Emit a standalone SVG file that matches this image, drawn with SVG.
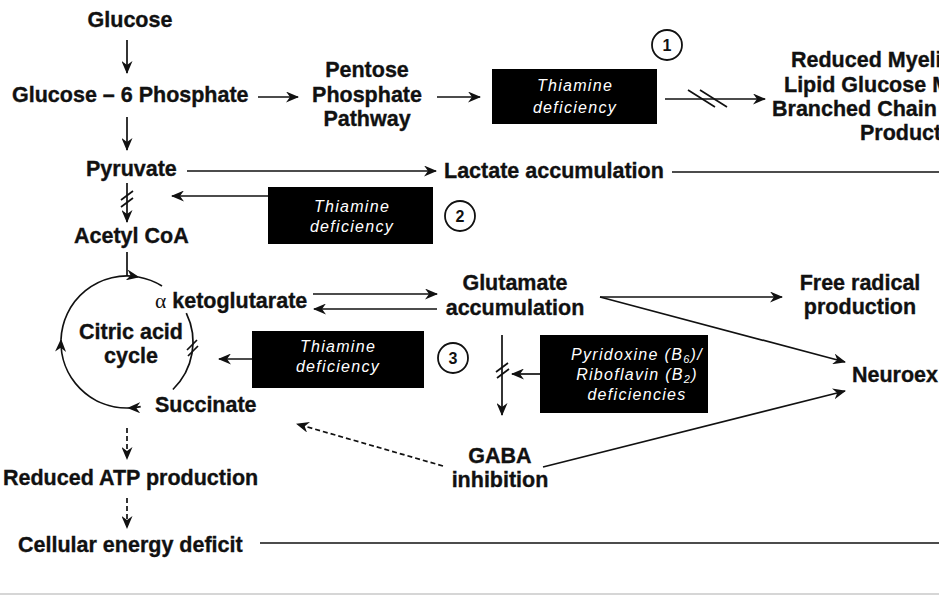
<svg xmlns="http://www.w3.org/2000/svg" width="939" height="595" viewBox="0 0 939 595">
<defs>
<style>
.t{font-family:"Liberation Sans",Arial,sans-serif;font-weight:bold;font-size:21.5px;fill:#111;stroke:#111;stroke-width:0.35}
.c{text-anchor:middle}
.bx{fill:#000}
.bt{font-family:"Liberation Sans",Arial,sans-serif;font-style:italic;font-size:16px;fill:#fff;text-anchor:middle;letter-spacing:1.3px}
.num{font-family:"Liberation Sans",Arial,sans-serif;font-weight:bold;font-size:16px;fill:#111;text-anchor:middle}
.ring{fill:none;stroke:#111;stroke-width:1.8}
.ln{fill:none;stroke:#111;stroke-width:1.7}
.ar{marker-end:url(#ah)}
.ds{stroke-dasharray:5 3}
</style>
<marker id="ah" viewBox="0 0 13 11" refX="12" refY="5.5" markerWidth="13" markerHeight="11" markerUnits="userSpaceOnUse" orient="auto">
<path d="M0,0 L13,5.5 L0,11 L4,5.5 z" fill="#111"/>
</marker>
</defs>
<rect width="939" height="595" fill="#fff"/>
<line x1="0" y1="594" x2="939" y2="594" stroke="#c8c8c8" stroke-width="1.5"/>

<g id="glucose"><text class="t c" x="130" y="27">Glucose</text></g>
<g id="g6p"><text class="t" x="12" y="102">Glucose – 6 Phosphate</text></g>
<g id="ppp"><text class="t c" x="367" y="77">Pentose</text><text class="t c" x="367" y="102">Phosphate</text><text class="t c" x="367" y="126">Pathway</text></g>
<g id="thiamine1"><rect class="bx" x="492" y="69" width="165" height="55"/><text class="bt" x="575" y="91">Thiamine</text><text class="bt" x="575" y="113">deficiency</text></g>
<g id="num1"><circle class="ring" cx="667" cy="45" r="15"/><text class="num" x="667" y="51">1</text></g>
<g id="reduced-myelin"><text class="t" x="791" y="67">Reduced Myeli</text><text class="t" x="784" y="92">Lipid Glucose M</text><text class="t" x="772" y="116">Branched Chain</text><text class="t" x="860" y="140">Product</text></g>
<g id="pyruvate"><text class="t" x="86" y="176">Pyruvate</text></g>
<g id="lactate"><text class="t" x="444" y="178">Lactate accumulation</text></g>
<g id="thiamine2"><rect class="bx" x="268" y="187" width="165" height="57"/><text class="bt" x="352" y="212">Thiamine</text><text class="bt" x="352" y="232">deficiency</text></g>
<g id="num2"><circle class="ring" cx="460" cy="216" r="15"/><text class="num" x="460" y="222">2</text></g>
<g id="acetylcoa"><text class="t" x="74" y="243">Acetyl CoA</text></g>
<g id="cycle"><text class="t c" x="131" y="339">Citric acid</text><text class="t c" x="131" y="363">cycle</text></g>
<g id="aketo"><text class="t" x="155" y="308"><tspan font-family="'Liberation Serif',serif" font-weight="normal" stroke-width="0">α</tspan> ketoglutarate</text></g>
<g id="succinate"><text class="t" x="155" y="412">Succinate</text></g>
<g id="thiamine3"><rect class="bx" x="252" y="331" width="172" height="57"/><text class="bt" x="338" y="352">Thiamine</text><text class="bt" x="338" y="372">deficiency</text></g>
<g id="num3"><circle class="ring" cx="453" cy="358" r="15"/><text class="num" x="453" y="364">3</text></g>
<g id="glutamate"><text class="t c" x="515" y="290">Glutamate</text><text class="t c" x="515" y="315">accumulation</text></g>
<g id="freeradical"><text class="t c" x="860" y="290">Free radical</text><text class="t c" x="860" y="314">production</text></g>
<g id="neuroex"><text class="t" x="852" y="382">Neuroex</text></g>
<g id="pyridoxine"><rect class="bx" x="540" y="335" width="168" height="78"/>
<text class="bt" x="637" y="360">Pyridoxine (B<tspan font-size="11" dy="3">6</tspan><tspan dy="-3">)/</tspan></text>
<text class="bt" x="637" y="380">Riboflavin (B<tspan font-size="11" dy="3">2</tspan><tspan dy="-3">)</tspan></text>
<text class="bt" x="637" y="400">deficiencies</text></g>
<g id="gaba"><text class="t c" x="500" y="463">GABA</text><text class="t c" x="500" y="487">inhibition</text></g>
<g id="atp"><text class="t" x="3" y="485">Reduced ATP production</text></g>
<g id="energy"><text class="t" x="18" y="552">Cellular energy deficit</text></g>

<g id="connectors">
<path class="ln ar" d="M127,40 V73"/>
<path class="ln ar" d="M258,97 H298"/>
<path class="ln ar" d="M127,117 V150"/>
<path class="ln ar" d="M437,97 H480"/>
<path class="ln ar" d="M665,99 H765"/>
<path class="ln" d="M688,90 L715,107 M700,90 L727,107"/>
<path class="ln ar" d="M187,171 H436"/>
<path class="ln" d="M672,172 H939"/>
<path class="ln ar" d="M268,196 H172"/>
<path class="ln ar" d="M127,183 V222"/>
<path class="ln" d="M121,200 L133,191 M121,207 L133,198"/>
<path class="ln" d="M127,252 V276"/>
<path class="ln ar" d="M140.7,406.6 A66,66 0 0 1 128.2,408"/>
<path class="ln ar" d="M128.2,408 A66,66 0 0 1 61,339.7"/>
<path class="ln ar" d="M61,339.7 A66,66 0 0 1 138.5,277"/>
<path class="ln" d="M138.5,277 A66,66 0 0 1 162,286"/>
<path class="ln" d="M186.3,313.1 A66,66 0 0 1 172.9,389.5"/>
<path class="ln" d="M187,350 L197,340 M188,356 L198,346"/>
<path class="ln ar" d="M252,359 H219"/>
<path class="ln ar" d="M313,294 H437"/>
<path class="ln ar" d="M437,309 H314"/>
<path class="ln ar" d="M600,297 H782"/>
<path class="ln ar" d="M600,297 L845,362"/>
<path class="ln ar" d="M502,335 V415"/>
<path class="ln" d="M496,372 L508,363 M497,378 L509,369"/>
<path class="ln ar" d="M540,374 H512"/>
<path class="ln ar ds" d="M443,466 L297,424"/>
<path class="ln ar" d="M543,467 L845,391"/>
<path class="ln ar ds" d="M127,428 V459"/>
<path class="ln ar ds" d="M127,498 V528"/>
<path class="ln" d="M260,543 H939"/>
</g>
</svg>
